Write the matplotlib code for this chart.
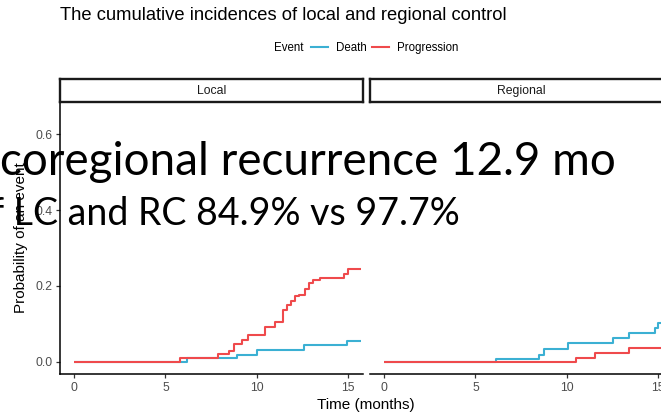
import matplotlib
matplotlib.use("Agg")
import matplotlib.pyplot as plt
from matplotlib.lines import Line2D

plt.rcParams['font.family'] = ['Liberation Sans', 'DejaVu Sans']

# cumulative incidence step data (time in months, probability)
local_death_t = [0, 6.2, 8.9, 10.0, 12.6, 14.95, 15.7]
local_death_p = [0, 0.010, 0.017, 0.031, 0.044, 0.055, 0.055]
local_prog_t = [0, 5.8, 7.85, 8.45, 8.75, 9.2, 9.5, 10.45, 11.0, 11.45, 11.65,
                11.85, 12.1, 12.3, 12.65, 12.85, 13.05, 13.45, 14.75, 15.0, 15.7]
local_prog_p = [0, 0.010, 0.019, 0.028, 0.047, 0.057, 0.070, 0.092, 0.106, 0.137, 0.150,
                0.159, 0.172, 0.176, 0.193, 0.207, 0.216, 0.220, 0.232, 0.245, 0.245]

regional_death_t = [0, 6.1, 8.5, 8.75, 10.05, 12.5, 13.4, 14.8, 15.0, 15.7]
regional_death_p = [0, 0.007, 0.018, 0.033, 0.049, 0.062, 0.075, 0.088, 0.101, 0.101]
regional_prog_t = [0, 10.5, 11.55, 13.4, 15.7]
regional_prog_p = [0, 0.011, 0.022, 0.035, 0.035]

panels = ['Local', 'Regional']
events = ['Death', 'Progression']
colors = {'Death': '#3BB0D3', 'Progression': '#EF4A4C'}
x_ticks = [0, 5, 10, 15]
y_ticks = [0.0, 0.2, 0.4, 0.6]

W, H = 661, 415
fig = plt.figure(figsize=(W / 100, H / 100), dpi=100)
fig.patch.set_facecolor('white')


def box(x0, y0, x1, y1):
    # pixel box (top-left origin) -> figure fraction rect
    return [x0 / W, 1 - y1 / H, (x1 - x0) / W, (y1 - y0) / H]


ax_local = fig.add_axes(box(60, 103, 363, 374))
ax_reg = fig.add_axes(box(370, 103, 673, 374))

series = {
    'Local': [(local_death_t, local_death_p), (local_prog_t, local_prog_p)],
    'Regional': [(regional_death_t, regional_death_p), (regional_prog_t, regional_prog_p)],
}

for ax, name in zip([ax_local, ax_reg], panels):
    for ev, (t, p) in zip(events, series[name]):
        ax.step(t, p, where='post', color=colors[ev], lw=1.5, solid_capstyle='butt')
    ax.set_xlim(-0.76, 15.8)
    ax.set_ylim(-0.0325, 0.6825)
    ax.set_xticks(x_ticks)
    ax.set_yticks(y_ticks)
    ax.set_yticklabels(['%.1f' % v for v in y_ticks])
    for s in ['top', 'right']:
        ax.spines[s].set_visible(False)
    ax.spines['bottom'].set_linewidth(1.1)
    ax.spines['left'].set_linewidth(1.1)
    ax.tick_params(length=3, width=0.9, color='#333333', labelcolor='#4D4D4D',
                   labelsize=8.8, pad=2.5)

    # facet strip
    pos = ax.get_position()
    strip = fig.add_axes([pos.x0, 1 - 102 / H, pos.width, 23 / H])
    strip.set_xticks([])
    strip.set_yticks([])
    for s in strip.spines.values():
        s.set_linewidth(1.7)
        s.set_color('#1A1A1A')
    strip.text(0.5, 0.5, name, ha='center', va='center', fontsize=8.8, color='#1A1A1A',
               transform=strip.transAxes)

ax_reg.spines['left'].set_visible(False)
ax_reg.tick_params(axis='y', left=False, labelleft=False)

fig.text(60 / W, 1 - 15 / H, 'The cumulative incidences of local and regional control',
         fontsize=13.2, va='center', ha='left')
fig.text(366 / W, 1 - 405 / H, 'Time (months)', fontsize=11, ha='center', va='center')
fig.text(21 / W, 1 - 238 / H, 'Probability of an event', fontsize=11, rotation=90,
         ha='center', va='center')

# legend on top
fig.text(274 / W, 1 - 48 / H, 'Event', fontsize=8.3, ha='left', va='center')
handles = [Line2D([], [], color=colors[ev], lw=1.5) for ev in events]
fig.legend(handles, events, loc='center left', bbox_to_anchor=(311 / W, 1 - 48 / H),
           ncol=2, frameon=False, fontsize=8.3, handlelength=1.5, handletextpad=0.7,
           columnspacing=0.4, borderpad=0, borderaxespad=0)

# slide annotations laid over the chart
fig.text(0 / W, 1 - 175 / H, 'coregional recurrence 12.9 mo', fontfamily='Lato',
         fontsize=33, color='black', va='baseline', ha='left')
fig.text(-9 / W, 1 - 225 / H, 'f LC and RC 84.9% vs 97.7%', fontfamily='Lato',
         fontsize=27, color='black', va='baseline', ha='left')

fig.savefig('out.png', dpi=100)
